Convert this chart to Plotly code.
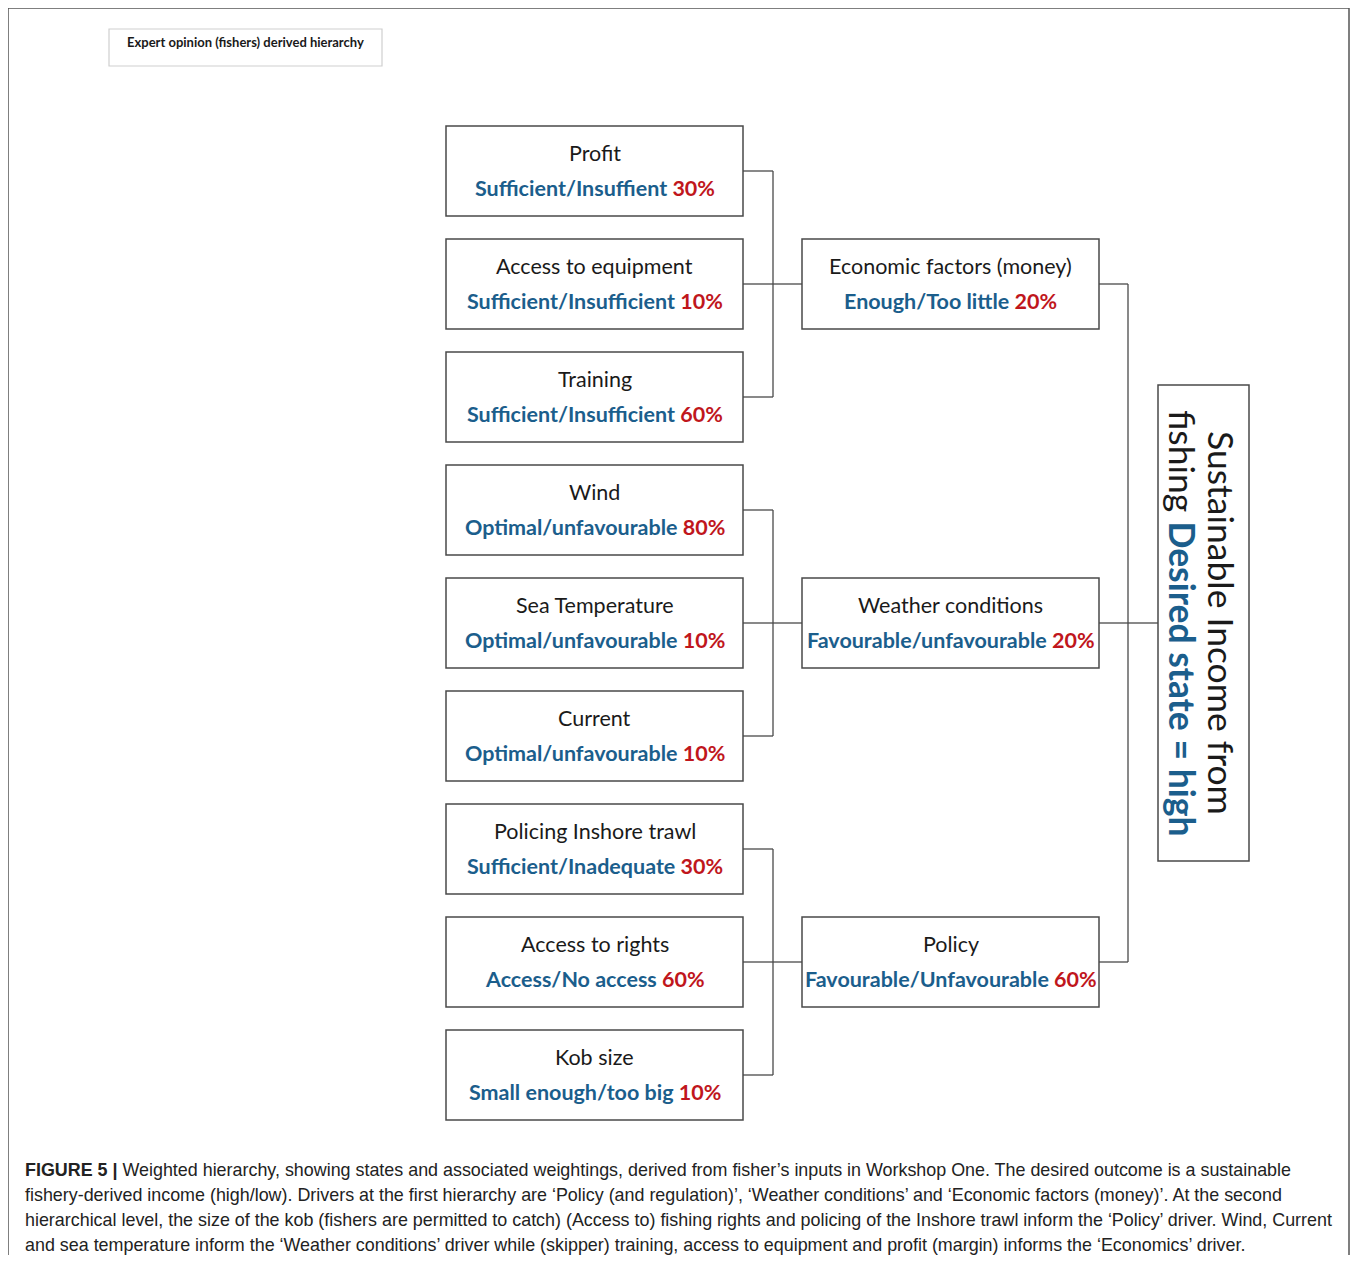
import plotly.graph_objects as go

# ---------------- data ----------------
leaf_names = ["Profit", "Access to equipment", "Training",
              "Wind", "Sea Temperature", "Current",
              "Policing Inshore trawl", "Access to rights", "Kob size"]
leaf_states = ["Sufficient/Insuffient", "Sufficient/Insufficient", "Sufficient/Insufficient",
               "Optimal/unfavourable", "Optimal/unfavourable", "Optimal/unfavourable",
               "Sufficient/Inadequate", "Access/No access", "Small enough/too big"]
leaf_weights = [30, 10, 60, 80, 10, 10, 30, 60, 10]
leaf_parent = [0, 0, 0, 1, 1, 1, 2, 2, 2]

driver_names = ["Economic factors (money)", "Weather conditions", "Policy"]
driver_states = ["Enough/Too little", "Favourable/unfavourable", "Favourable/Unfavourable"]
driver_weights = [20, 20, 60]

goal_line1 = "Sustainable Income from"
goal_line2_a = "fishing"
goal_line2_b = "Desired state = high"

header_text = "Expert opinion (fishers) derived hierarchy"
caption_lines = [
    "<b>FIGURE 5 |</b> Weighted hierarchy, showing states and associated weightings, derived from fisher\u2019s inputs in Workshop One. The desired outcome is a sustainable",
    "fishery-derived income (high/low). Drivers at the first hierarchy are \u2018Policy (and regulation)\u2019, \u2018Weather conditions\u2019 and \u2018Economic factors (money)\u2019. At the second",
    "hierarchical level, the size of the kob (fishers are permitted to catch) (Access to) fishing rights and policing of the Inshore trawl inform the \u2018Policy\u2019 driver. Wind, Current",
    "and sea temperature inform the \u2018Weather conditions\u2019 driver while (skipper) training, access to equipment and profit (margin) informs the \u2018Economics\u2019 driver.",
]

# ---------------- style / layout ----------------
PAGE_W, PAGE_H = 1358, 1263
OFF = 8  # page body margin
W, H = PAGE_W - OFF, PAGE_H - 2 * OFF
BLUE = "#1b5e8c"
RED = "#c0161c"
INK = "#1a1a1a"
LINE = "#4a4a4a"
BOXFONT = "Lato, Open Sans, sans-serif"
CAPFONT = "Liberation Sans Narrow, Arial Narrow, Liberation Sans, Arial, sans-serif"

LEAF_X0, LEAF_X1 = 446, 743
DRV_X0, DRV_X1 = 802, 1099
BOX_H = 90
LEAF_TOP0, LEAF_STEP = 126, 113.0
JOIN1_X = 773
JOIN2_X = 1128
GOAL = dict(x0=1158, x1=1249, y0=385, y1=861)
FRAME_R = 1349

shapes = []
annotations = []


def box(x0, y0, x1, y1, color=LINE, width=1.5):
    shapes.append(dict(type="rect", x0=x0, y0=y0, x1=x1, y1=y1, xref="x", yref="y",
                       line=dict(color=color, width=width), fillcolor="rgba(0,0,0,0)"))


def seg(x0, y0, x1, y1, color=LINE, width=1.3):
    shapes.append(dict(type="line", x0=x0, y0=y0, x1=x1, y1=y1, xref="x", yref="y",
                       line=dict(color=color, width=width)))


def two_line_text(cx, top, name, state, weight):
    annotations.append(dict(x=cx, y=top + 27, text=name, showarrow=False, xref="x", yref="y",
                            xanchor="center", yanchor="middle",
                            font=dict(family=BOXFONT, size=21.5, color=INK)))
    annotations.append(dict(x=cx, y=top + 62,
                            text=f"<b><span style='color:{BLUE}'>{state}</span> "
                                 f"<span style='color:{RED}'>{weight}%</span></b>",
                            showarrow=False, xref="x", yref="y", xanchor="center", yanchor="middle",
                            font=dict(family=BOXFONT, size=21.5, color=BLUE)))


# outer frame (three sides)
shapes.append(dict(type="path",
                   path=f"M 8 {PAGE_H + 5} L 8 8 L {FRAME_R} 8 L {FRAME_R} {PAGE_H + 5}",
                   xref="x", yref="y", line=dict(color="#555555", width=1.5)))

# header box
box(109, 29, 382, 66, color="#cfcfcf", width=1.2)
annotations.append(dict(x=245, y=42, text=f"<b>{header_text}</b>", showarrow=False,
                        xref="x", yref="y", xanchor="center", yanchor="middle",
                        font=dict(family=BOXFONT, size=13, color=INK)))

# leaves
leaf_mid = []
for i, (n, s, w) in enumerate(zip(leaf_names, leaf_states, leaf_weights)):
    top = LEAF_TOP0 + i * LEAF_STEP
    box(LEAF_X0, top, LEAF_X1, top + BOX_H)
    two_line_text((LEAF_X0 + LEAF_X1) / 2, top, n, s, w)
    leaf_mid.append(top + BOX_H / 2)

# drivers, aligned with middle child of each group
drv_mid = []
for g, (n, s, w) in enumerate(zip(driver_names, driver_states, driver_weights)):
    kids = [i for i, p in enumerate(leaf_parent) if p == g]
    mid_kid = kids[len(kids) // 2]
    top = LEAF_TOP0 + mid_kid * LEAF_STEP
    box(DRV_X0, top, DRV_X1, top + BOX_H)
    two_line_text((DRV_X0 + DRV_X1) / 2, top, n, s, w)
    ym = top + BOX_H / 2
    drv_mid.append(ym)
    for k in kids:
        seg(LEAF_X1, leaf_mid[k], JOIN1_X, leaf_mid[k])
    seg(JOIN1_X, leaf_mid[kids[0]], JOIN1_X, leaf_mid[kids[-1]])
    seg(JOIN1_X, ym, DRV_X0, ym)
    seg(DRV_X1, ym, JOIN2_X, ym)

seg(JOIN2_X, min(drv_mid), JOIN2_X, max(drv_mid))
goal_mid = drv_mid[len(drv_mid) // 2]
seg(JOIN2_X, goal_mid, GOAL["x0"], goal_mid)

# goal box with rotated text
gy = (GOAL["y0"] + GOAL["y1"]) / 2
box(GOAL["x0"], GOAL["y0"], GOAL["x1"], GOAL["y1"])
annotations.append(dict(x=1222, y=gy, text=goal_line1,
                        textangle=90, showarrow=False, xref="x", yref="y",
                        xanchor="center", yanchor="middle",
                        font=dict(family=BOXFONT, size=35.5, color=INK)))
annotations.append(dict(x=1183, y=gy,
                        text=f"{goal_line2_a} <b><span style='color:{BLUE}'>{goal_line2_b}</span></b>",
                        textangle=90, showarrow=False, xref="x", yref="y",
                        xanchor="center", yanchor="middle",
                        font=dict(family=BOXFONT, size=35.5, color=INK)))

# caption
for j, line in enumerate(caption_lines):
    annotations.append(dict(x=23, y=1170 + j * 25, text=line, showarrow=False,
                            xref="x", yref="y", xanchor="left", yanchor="middle",
                            font=dict(family=CAPFONT, size=17.9, color="#222222")))

fig = go.Figure()
fig.update_layout(
    width=W, height=H, margin=dict(l=0, r=0, t=0, b=0),
    paper_bgcolor="white", plot_bgcolor="white",
    xaxis=dict(range=[OFF, OFF + W], visible=False, fixedrange=True),
    yaxis=dict(range=[OFF + H, OFF], visible=False, fixedrange=True),
    shapes=shapes, annotations=annotations, showlegend=False,
)
fig.write_html("out.html")
